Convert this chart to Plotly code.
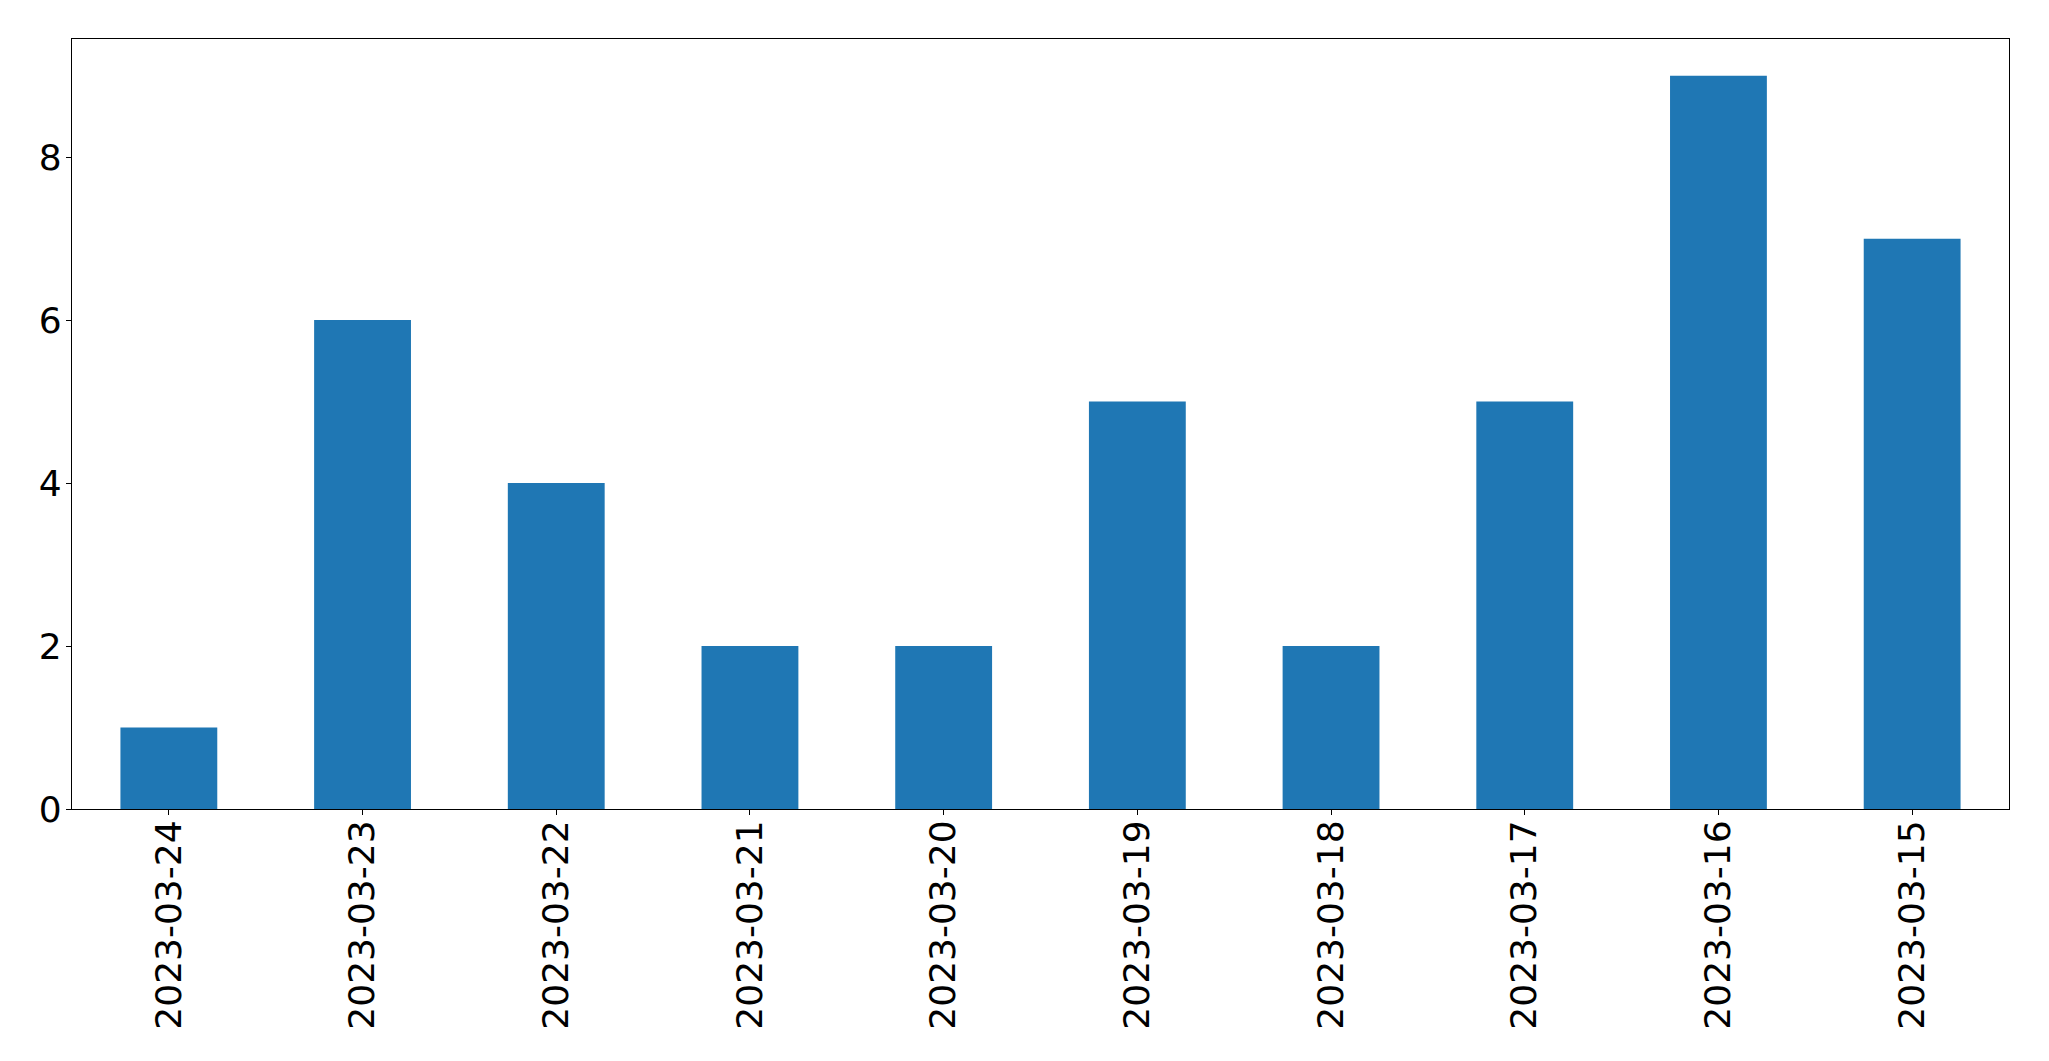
import plotly.graph_objects as go

dates = ["2023-03-24", "2023-03-23", "2023-03-22", "2023-03-21", "2023-03-20",
         "2023-03-19", "2023-03-18", "2023-03-17", "2023-03-16", "2023-03-15"]
counts = [1, 6, 4, 2, 2, 5, 2, 5, 9, 7]
y_ticks = [0, 2, 4, 6, 8]

fig = go.Figure(go.Bar(x=dates, y=counts, width=0.5, marker=dict(color="#1f77b4", line=dict(width=0))))

font = dict(family="DejaVu Sans", size=36, color="black")
fig.update_layout(
    width=2033, height=1045,
    margin=dict(l=64, r=32, t=31, b=244, autoexpand=False),
    plot_bgcolor="white", paper_bgcolor="white",
    showlegend=False, font=font,
)
fig.update_xaxes(
    type="category", range=[-0.5, 9.5], tickangle=-90,
    showline=True, linecolor="black", linewidth=1.1, mirror=True,
    ticks="outside", ticklen=5, tickwidth=1.1, tickcolor="black",
    showgrid=False, zeroline=False, tickfont=font, ticklabelstandoff=-9,
)
fig.update_yaxes(
    range=[0, 9.45], tickvals=y_ticks,
    showline=True, linecolor="black", linewidth=1.1, mirror=True,
    ticks="outside", ticklen=5, tickwidth=1.1, tickcolor="black",
    showgrid=False, zeroline=False, tickfont=font, ticklabelstandoff=-3,
)
fig.write_html("out.html")
